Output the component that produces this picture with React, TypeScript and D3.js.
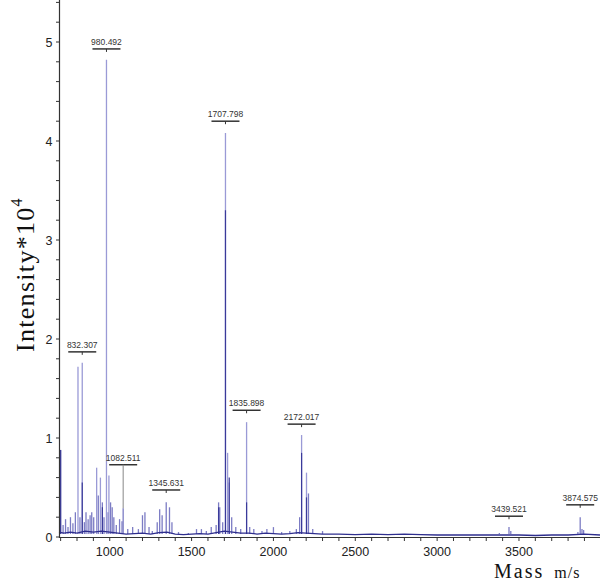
import React from "react";
import * as d3 from "d3";

const peakMass = [700, 715, 730, 745, 760, 775, 790, 806, 818, 832, 845, 855, 868, 880, 890, 902, 920, 930, 943, 955, 965, 980, 990, 995, 1005, 1015, 1025, 1040, 1060, 1075, 1082, 1110, 1140, 1175, 1200, 1215, 1240, 1260, 1290, 1305, 1320, 1345, 1365, 1380, 1420, 1480, 1530, 1560, 1590, 1620, 1650, 1665, 1672, 1690, 1707, 1720, 1730, 1745, 1770, 1800, 1836, 1855, 1880, 1930, 1960, 2000, 2050, 2100, 2140, 2160, 2172, 2202, 2214, 2240, 2300, 3380, 3439, 3450, 3860, 3874, 3885, 3895];
const peakIntensity = [0.88, 0.12, 0.18, 0.1, 0.2, 0.14, 0.25, 1.72, 0.2, 1.76, 0.15, 0.25, 0.18, 0.22, 0.25, 0.2, 0.7, 0.42, 0.6, 0.35, 0.2, 4.82, 0.25, 0.62, 0.35, 0.3, 0.2, 0.12, 0.18, 0.16, 0.29, 0.08, 0.1, 0.08, 0.22, 0.25, 0.1, 0.06, 0.15, 0.28, 0.22, 0.35, 0.3, 0.15, 0.05, 0.04, 0.08, 0.08, 0.06, 0.1, 0.12, 0.35, 0.3, 0.15, 4.08, 0.85, 0.55, 0.2, 0.1, 0.08, 1.16, 0.1, 0.08, 0.06, 0.08, 0.1, 0.05, 0.06, 0.08, 0.2, 1.03, 0.65, 0.44, 0.08, 0.06, 0.04, 0.1, 0.06, 0.05, 0.2, 0.08, 0.07];

// darker inner trace levels for some peaks
const coreMass = [700, 832, 955, 1665, 1707, 1730, 1836, 2172, 2202];
const coreIntensity = [0.88, 0.55, 0.3, 0.3, 3.3, 0.6, 0.35, 0.85, 0.4];

const baseMass = [690, 720, 760, 800, 850, 900, 950, 1000, 1050, 1100, 1150, 1200, 1250, 1300, 1350, 1400, 1450, 1500, 1550, 1600, 1650, 1700, 1750, 1800, 1850, 1900, 1950, 2000, 2050, 2100, 2150, 2250, 2300, 2400, 2500, 2600, 2700, 2800, 2900, 3000, 3100, 3200, 3300, 3400, 3500, 3600, 3700, 3800, 3900, 3995];
const baseIntensity = [0.05, 0.04, 0.05, 0.04, 0.06, 0.05, 0.06, 0.05, 0.04, 0.03, 0.035, 0.04, 0.03, 0.045, 0.05, 0.03, 0.025, 0.03, 0.035, 0.03, 0.045, 0.06, 0.05, 0.04, 0.04, 0.03, 0.04, 0.035, 0.03, 0.035, 0.045, 0.035, 0.03, 0.03, 0.025, 0.03, 0.025, 0.03, 0.025, 0.02, 0.02, 0.02, 0.02, 0.02, 0.02, 0.015, 0.02, 0.02, 0.03, 0.02];

const labelText = ["980.492", "1707.798", "832.307", "1082.511", "1345.631", "1835.898", "2172.017", "3439.521", "3874.575"];
const labelMass = [980, 1707, 832, 1082, 1345, 1836, 2172, 3439, 3874];
const labelLevel = [4.93, 4.2, 1.87, 0.73, 0.475, 1.28, 1.14, 0.21, 0.325];
const leaderTo = [null, null, null, 0.29, null, null, null, null, null];

const xMajor = [1000, 1500, 2000, 2500, 3000, 3500];
const yMajor = [0, 1, 2, 3, 4, 5];

export default function App() {
  const W = 600, H = 583;
  const x = d3.scaleLinear().domain([690, 3995]).range([59, 600]);
  const y = d3.scaleLinear().domain([0, 5]).range([537, 42]);
  const xMinor = d3.range(700, 3995, 100);
  const yMinor = d3.range(0, 5.45, 0.2);

  const basePath = d3.line<number>()
    .x((_, i) => x(baseMass[i]))
    .y((d) => y(d))(baseIntensity) || "";

  const tickFont = "'Liberation Sans Narrow', 'Arial Narrow', 'Liberation Sans', sans-serif";

  return (
    <svg width={W} height={H} style={{ position: "absolute", left: 0, top: 0, background: "#fff" }}>
      {/* peaks */}
      {peakMass.map((m, i) => (
        <line key={"p" + i} x1={x(m)} x2={x(m)} y1={y(0.03)} y2={y(peakIntensity[i])}
          stroke={peakIntensity[i] > 0.5 ? "#9a9ad6" : "#7c7cc4"} strokeWidth={1.3} />
      ))}
      {coreMass.map((m, i) => (
        <line key={"c" + i} x1={x(m)} x2={x(m)} y1={y(0.03)} y2={y(coreIntensity[i])}
          stroke="#3a3a9a" strokeWidth={1.2} />
      ))}
      <path d={basePath} fill="none" stroke="#2e2e8e" strokeWidth={1.3} />

      {/* axes */}
      <line x1={59} x2={600} y1={537.5} y2={537.5} stroke="#333" strokeWidth={1.2} />
      <line x1={59.5} x2={59.5} y1={0} y2={538} stroke="#333" strokeWidth={1.2} />
      {xMinor.map((v) => (
        <line key={"xm" + v} x1={x(v)} x2={x(v)} y1={537} y2={541} stroke="#333" strokeWidth={1} />
      ))}
      {xMajor.map((v) => (
        <text key={"xl" + v} x={x(v)} y={556} textAnchor="middle" fontFamily={tickFont} fontSize={12.5} fill="#222">{v}</text>
      ))}
      {yMinor.map((v, i) => (
        <line key={"ym" + i} x1={56} x2={59} y1={y(v)} y2={y(v)} stroke="#333" strokeWidth={1} />
      ))}
      {yMajor.map((v) => (
        <text key={"yl" + v} x={49} y={y(v) + 5} textAnchor="middle" fontFamily={tickFont} fontSize={12.5} fill="#222">{v}</text>
      ))}

      {/* annotations */}
      {labelText.map((t, i) => {
        const cx = x(labelMass[i]);
        const by = y(labelLevel[i]);
        const lt = leaderTo[i];
        return (
          <g key={"a" + i}>
            <text x={cx} y={by - 4} textAnchor="middle" fontFamily={tickFont} fontSize={8.5} fill="#333">{t}</text>
            <line x1={cx - 14} x2={cx + 14} y1={by} y2={by} stroke="#333" strokeWidth={1.5} />
            <line x1={cx} x2={cx} y1={by} y2={lt != null ? y(lt) : by + 3} stroke={lt != null ? "#888" : "#333"} strokeWidth={1} />
          </g>
        );
      })}

      {/* axis titles */}
      <text transform="translate(34,352) rotate(-90)" fontFamily="'Liberation Serif', 'DejaVu Serif', serif" fontSize={26} fill="#111" letterSpacing={1.3}>
        Intensity*10<tspan dy={-12} fontSize={16}>4</tspan>
      </text>
      <text x={494} y={578} fontFamily="'Liberation Serif', 'DejaVu Serif', serif" fontSize={20} fill="#111" letterSpacing={2}>
        Mass<tspan dx={10} fontSize={16} letterSpacing={1}>m/s</tspan>
      </text>
    </svg>
  );
}
